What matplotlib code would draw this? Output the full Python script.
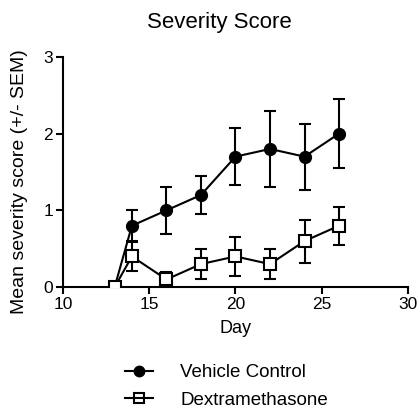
import matplotlib
matplotlib.use("Agg")
import matplotlib.pyplot as plt
from matplotlib.lines import Line2D

plt.rcParams['font.family'] = ['Liberation Sans', 'DejaVu Sans']

days = [13, 14, 16, 18, 20, 22, 24, 26]
vehicle = [0, 0.8, 1.0, 1.2, 1.7, 1.8, 1.7, 2.0]
vehicle_sem = [0, 0.2, 0.31, 0.25, 0.37, 0.49, 0.43, 0.45]
dex = [0, 0.4, 0.1, 0.3, 0.4, 0.3, 0.6, 0.8]
dex_sem = [0, 0.19, 0.1, 0.2, 0.25, 0.2, 0.28, 0.25]
xticks = [10, 15, 20, 25, 30]
yticks = [0, 1, 2, 3]

fig = plt.figure(figsize=(4.19, 4.09), dpi=100)
ax = fig.add_axes([0.150, 0.298, 0.824, 0.563])

lw = 1.5
ax.errorbar(days, vehicle, yerr=vehicle_sem, color='black', marker='o', ms=8.5,
            mfc='black', mec='black', lw=lw, elinewidth=lw, capsize=4.3, capthick=lw,
            zorder=3)
ax.errorbar(days, dex, yerr=dex_sem, color='black', marker='s', ms=8,
            mfc='white', mec='black', mew=lw, lw=lw, elinewidth=lw, capsize=4.3,
            capthick=lw, zorder=4)

ax.set_xlim(10, 30)
ax.set_ylim(0, 3)
ax.set_xticks(xticks)
ax.set_yticks(yticks)
for s in ['top', 'right']:
    ax.spines[s].set_visible(False)
for s in ['left', 'bottom']:
    ax.spines[s].set_linewidth(1.5)
ax.tick_params(width=1.5, length=5, labelsize=12.5, colors='black', pad=2)
ax.set_xlabel('Day', fontsize=13, labelpad=6)
ax.set_ylabel('Mean severity score (+/- SEM)', fontsize=14, labelpad=7)
ax.yaxis.set_label_coords(-0.101, 0.46)
ax.set_title('Severity Score', fontsize=16, pad=21, x=0.452)

handles = [
    Line2D([], [], color='black', marker='o', ms=7.5, mfc='black', lw=lw),
    Line2D([], [], color='black', marker='s', ms=7, mfc='none', mew=lw, lw=lw),
]
fig.legend(handles, ['Vehicle Control', 'Dextramethasone'], loc='upper left',
           bbox_to_anchor=(0.298, 0.11), frameon=False, fontsize=13.5,
           handlelength=1.5, handletextpad=1.45, labelspacing=0.55,
           borderpad=0, borderaxespad=0)

fig.savefig('out.png', dpi=100)
